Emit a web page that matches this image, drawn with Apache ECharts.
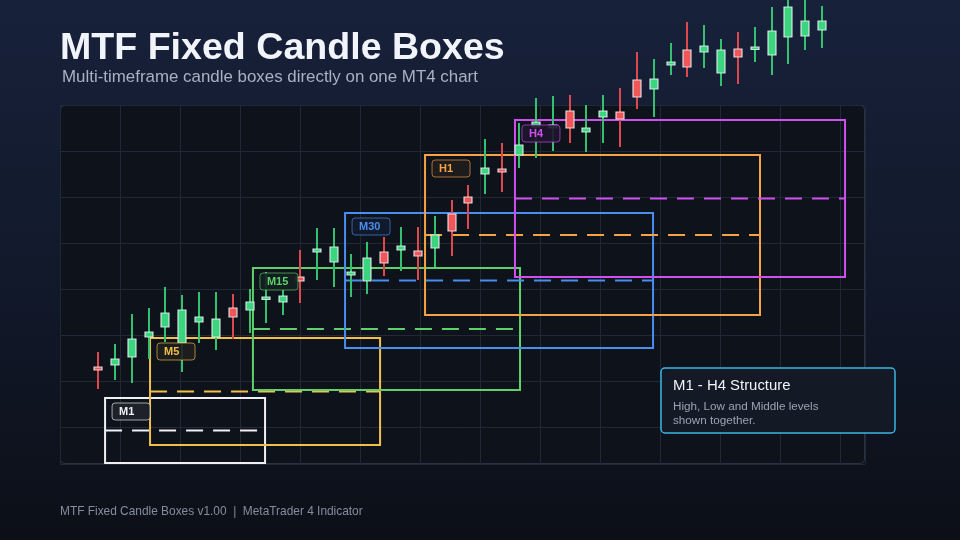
<!DOCTYPE html>
<html>
<head>
<meta charset="utf-8">
<script src="https://cdn.jsdelivr.net/npm/echarts@6/dist/echarts.min.js"></script>
<style>
html,body{margin:0;padding:0;background:#0d111a;}
#chart{width:960px;height:540px;}
</style>
</head>
<body>
<div id="chart"></div>
<script>
// ---- Data ----
const opens  = [117.3,117.5,118.3,120.3,121.3,119.7,121.8,120.3,123.2,123.0,124.1,123.8,126.3,128.8,127.8,126.5,125.9,128.8,129.0,128.9,129.2,132.6,134.3,136.6,137.1,138.5,141.3,141.2,142.9,140.8,142.3,142.8,146.0,145.1,147.5,149.0,148.8,146.7,149.1,149.1,148.5,150.3,150.4,151.0];
const closes = [117.0,118.1,120.1,120.8,122.7,123.0,122.3,122.1,122.3,123.8,124.3,124.4,125.9,129.1,129.3,126.8,128.2,127.7,129.4,128.4,130.5,130.9,133.7,137.2,136.8,139.5,141.8,141.5,141.2,141.2,142.9,142.1,144.3,146.1,147.8,147.3,149.4,149.0,148.3,149.3,150.9,153.3,151.9,151.9];
const lows   = [115.1,116.0,115.7,118.1,119.8,116.8,119.7,119.0,120.1,120.7,121.7,122.5,123.7,126.0,125.3,124.3,124.6,126.4,126.9,126.0,127.3,128.4,131.1,134.6,134.8,137.2,138.2,138.9,139.7,138.8,139.7,139.3,143.1,142.3,146.5,146.3,147.2,145.4,145.6,147.8,146.5,147.6,149.0,149.2];
const highs  = [118.8,119.6,122.6,123.2,125.3,124.5,124.8,124.8,124.6,125.1,126.8,125.0,129.0,131.2,131.2,128.6,129.8,130.3,131.3,131.3,132.4,134.0,135.5,140.1,139.7,141.7,144.2,144.4,144.5,143.5,144.5,145.2,148.8,148.1,149.7,151.8,151.5,150.1,150.8,151.3,153.3,154.0,154.0,153.4];

const boxNames = ['M1','M5','M15','M30','H1','H4'];
const boxStart = [0.42, 3.09, 9.20, 14.67, 19.42, 24.76];
const boxEnd   = [9.92, 16.75, 25.06, 32.96, 39.31, 44.36];
const boxHigh  = [114.2, 120.2, 127.2, 132.7, 138.5, 142.0];
const boxLow   = [107.7, 109.5, 115.0, 119.2, 122.5, 126.3];

const titleText = 'MTF Fixed Candle Boxes';
const subtitleText = 'Multi-timeframe candle boxes directly on one MT4 chart';
const infoTitle = 'M1 - H4 Structure';
const infoLines = ['High, Low and Middle levels', 'shown together.'];
const footerText = 'MTF Fixed Candle Boxes v1.00  |  MetaTrader 4 Indicator';

// ---- Styles ----
const boxColors = ['#eef0f4', '#f0c04a', '#5fd06c', '#4a8ef0', '#f5a346', '#cf4ff0'];
const FONT = "'Liberation Sans', Arial, sans-serif";
const UP = '#3bd47f', UP_WICK = '#33c06f', DN = '#f05558', DN_WICK = '#e0474d';

function rgba(hex, a){
  const n = parseInt(hex.slice(1), 16);
  return 'rgba(' + ((n>>16)&255) + ',' + ((n>>8)&255) + ',' + (n&255) + ',' + a + ')';
}

const candleData = opens.map((o, i) => [i, o, closes[i], lows[i], highs[i]]);
const boxData = boxNames.map((n, i) => [boxStart[i], boxEnd[i], boxHigh[i], boxLow[i], i]);

function renderCandle(params, api){
  const i = api.value(0), o = api.value(1), c = api.value(2), l = api.value(3), h = api.value(4);
  const pO = api.coord([i, o]), pC = api.coord([i, c]), pL = api.coord([i, l]), pH = api.coord([i, h]);
  const up = c >= o;
  const w = 8;
  const top = Math.min(pO[1], pC[1]), bot = Math.max(pO[1], pC[1]);
  const x = Math.round(pO[0]);
  return {
    type: 'group',
    children: [
      { type: 'line', shape: { x1: x, y1: pH[1], x2: x, y2: pL[1] },
        style: { stroke: up ? UP_WICK : DN_WICK, lineWidth: 2 } },
      { type: 'rect', shape: { x: x - w / 2, y: top, width: w, height: Math.max(bot - top, 2.5) },
        style: { fill: up ? UP : DN, stroke: 'rgba(240,244,248,0.85)', lineWidth: 1.2 } }
    ]
  };
}

function renderBox(params, api){
  const s = api.value(0), e = api.value(1), hi = api.value(2), lo = api.value(3), k = api.value(4);
  const p1 = api.coord([s, hi]), p2 = api.coord([e, lo]);
  const mid = api.coord([s, (hi + lo) / 2]);
  const col = boxColors[k];
  return {
    type: 'group',
    children: [
      { type: 'rect', shape: { x: p1[0], y: p1[1], width: p2[0] - p1[0], height: p2[1] - p1[1] },
        style: { fill: 'none', stroke: col, lineWidth: 2 } },
      { type: 'line', shape: { x1: p1[0], y1: mid[1], x2: p2[0], y2: mid[1] },
        style: { stroke: col, lineWidth: 2, lineDash: [17, 10] } }
    ]
  };
}

function renderLabel(params, api){
  const s = api.value(0), hi = api.value(2), k = api.value(4);
  const p = api.coord([s, hi]);
  const col = boxColors[k];
  const x = p[0] + 7, y = p[1] + 5;
  return {
    type: 'group',
    children: [
      { type: 'rect', shape: { x: x, y: y, width: 38, height: 17, r: 3 },
        style: { fill: 'rgba(13,17,26,0.9)', stroke: rgba(col, 0.65), lineWidth: 1 } },
      { type: 'rect', shape: { x: x, y: y, width: 38, height: 17, r: 3 },
        style: { fill: rgba(col, 0.08) } },
      { type: 'text', x: x + 7, y: y + 9,
        style: { text: boxNames[k], fill: col, font: 'bold 11px ' + FONT, verticalAlign: 'middle', align: 'left' } }
    ]
  };
}

const chart = echarts.init(document.getElementById('chart'), null, { renderer: 'canvas' });
const hidden = { show: false };
chart.setOption({
  backgroundColor: {
    type: 'linear', x: 0, y: 0, x2: 0, y2: 1,
    colorStops: [{ offset: 0, color: '#17213a' }, { offset: 0.55, color: '#111829' }, { offset: 1, color: '#0c0f17' }]
  },
  animation: false,
  grid: [
    { left: 81.16, top: 0, width: 791.5, height: 540 },
    { left: 60, top: 105, width: 805, height: 359 }
  ],
  xAxis: [
    { type: 'value', gridIndex: 0, min: -1, max: 46, show: false },
    { type: 'value', gridIndex: 1, min: 0, max: 805, interval: 60,
      axisLine: hidden, axisTick: hidden, axisLabel: hidden,
      splitLine: { show: true, lineStyle: { color: '#212937', width: 1 } } }
  ],
  yAxis: [
    { type: 'value', gridIndex: 0, min: 100, max: 154, show: false },
    { type: 'value', gridIndex: 1, min: 0, max: 359, interval: 46, inverse: true,
      axisLine: hidden, axisTick: hidden, axisLabel: hidden,
      splitLine: { show: true, lineStyle: { color: '#212937', width: 1 } } }
  ],
  graphic: [
    { type: 'rect', z: -10, shape: { x: 60.5, y: 105.5, width: 804, height: 358, r: 4 },
      style: { fill: '#0e121b', stroke: '#2b3342', lineWidth: 1 } },
    { type: 'text', z: 100, x: 60, y: 49,
      style: { text: titleText, fill: '#f1f4fa', font: 'bold 37.6px ' + FONT, verticalAlign: 'middle' } },
    { type: 'text', z: 100, x: 62, y: 77,
      style: { text: subtitleText, fill: '#a9b2c4', font: '16.9px ' + FONT, verticalAlign: 'middle' } },
    { type: 'rect', z: 100, shape: { x: 661, y: 368, width: 234, height: 65, r: 4 },
      style: { fill: '#131925', stroke: '#3ab7e2', lineWidth: 1.5 } },
    { type: 'text', z: 101, x: 673, y: 386,
      style: { text: infoTitle, fill: '#f1f4f8', font: '14.9px ' + FONT, verticalAlign: 'middle' } },
    { type: 'text', z: 101, x: 673, y: 407,
      style: { text: infoLines[0], fill: '#9aa3b3', font: '11.7px ' + FONT, verticalAlign: 'middle' } },
    { type: 'text', z: 101, x: 673, y: 420.5,
      style: { text: infoLines[1], fill: '#9aa3b3', font: '11.7px ' + FONT, verticalAlign: 'middle' } },
    { type: 'text', z: 100, x: 60, y: 512,
      style: { text: footerText, fill: '#858d9d', font: '11.9px ' + FONT, verticalAlign: 'middle' } }
  ],
  series: [
    { type: 'custom', name: 'boxes', xAxisIndex: 0, yAxisIndex: 0, z: 3, clip: false,
      renderItem: renderBox, data: boxData, encode: { x: [0, 1], y: [2, 3] } },
    { type: 'custom', name: 'candles', xAxisIndex: 0, yAxisIndex: 0, z: 4, clip: false,
      renderItem: renderCandle, data: candleData, encode: { x: 0, y: [1, 2, 3, 4] } },
    { type: 'custom', name: 'labels', xAxisIndex: 0, yAxisIndex: 0, z: 5, clip: false,
      renderItem: renderLabel, data: boxData, encode: { x: [0, 1], y: [2, 3] } }
  ]
});
</script>
</body>
</html>
